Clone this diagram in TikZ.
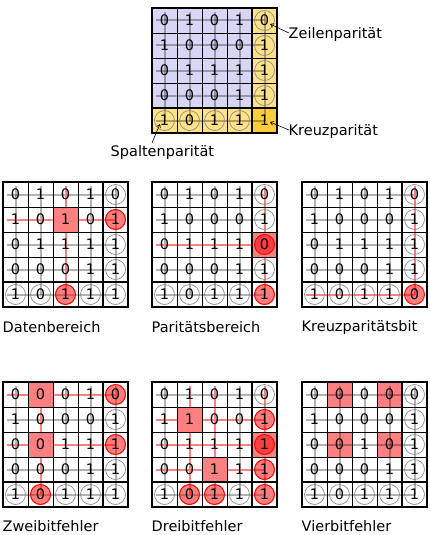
\documentclass[tikz,border=0pt]{standalone}
\usepackage{fontspec}
\setmainfont{DejaVu Sans}
\usepackage{tikz}
\usetikzlibrary{arrows.meta}
\definecolor{dataPurple}{RGB}{215,215,245}
\definecolor{parityYellow}{RGB}{255,225,135}
\definecolor{crossYellow}{RGB}{255,205,60}
\definecolor{errRed}{RGB}{255,128,128}

\tikzset{
  digit/.style={font=\fontsize{14.5}{16}\selectfont, inner sep=0pt},
  caption/.style={font=\fontsize{14.5}{16}\selectfont, anchor=west, inner sep=0.5pt},
  checkline/.style={black, opacity=0.3, line width=2pt},
  errline/.style={errRed, line width=2pt},
  paritycircle/.style={black!45, line width=0.7pt},
  errcircle/.style={red, fill=red, fill opacity=0.5, line width=0.9pt},
  thinframe/.style={black, line width=0.7pt},
  thickframe/.style={black, line width=1.8pt},
  pointer/.style={-{Straight Barb[length=3pt,width=4pt]}, line width=0.6pt},
}

% one 5x5 block: rows of bits, last row/column are parities
\newcommand{\bitgrid}[1]{%
  \foreach \row [count=\r] in {#1} {
    \foreach \v [count=\c] in \row {
      \node[digit] (bit-\r-\c) at ({25*\c-12.5},{25*\r-12.5}) {\v};
    }
  }}
\newcommand{\checklines}{%
  \foreach \i in {1,...,5} {
    \draw[checkline] (4,{25*\i-12.5}) -- (112.5,{25*\i-12.5});
    \draw[checkline] ({25*\i-12.5},4) -- ({25*\i-12.5},112.5);
  }}
\newcommand{\paritycircles}{%
  \foreach \i in {1,...,4} {
    \draw[paritycircle] (112.5,{25*\i-12.5}) circle[radius=10pt];
    \draw[paritycircle] ({25*\i-12.5},112.5) circle[radius=10pt];
  }}
\newcommand{\gridframe}{%
  \foreach \i in {1,...,4} {
    \draw[thinframe] ({25*\i},0) -- ({25*\i},125);
    \draw[thinframe] (0,{25*\i}) -- (125,{25*\i});
  }
  \draw[thickframe] (0,0) rectangle (125,125) (100,0) -- (100,125) (0,100) -- (125,100);}
\newcommand{\markcell}[2]{\fill[errRed] ({25*#2-25},{25*#1-25}) rectangle +(25,25);}
\newcommand{\markrow}[1]{\draw[errline] (4,{25*#1-12.5}) -- (112.5,{25*#1-12.5});}
\newcommand{\markcol}[1]{\draw[errline] ({25*#1-12.5},4) -- ({25*#1-12.5},112.5);}
\newcommand{\markbit}[2]{\draw[errcircle] ({25*#2-12.5},{25*#1-12.5}) circle[radius=10pt];}

\begin{document}
\begin{tikzpicture}[x=1pt,y=-1pt]
  \useasboundingbox (0,0) rectangle (430,535);

  % coded block with its parities
  \begin{scope}[shift={(152,8)}, name prefix=code-]
    \fill[dataPurple] (0,0) rectangle (100,100);
    \fill[parityYellow] (100,0) rectangle (125,125) (0,100) rectangle (100,125);
    \fill[crossYellow] (100,100) rectangle (125,125);
    \checklines
    \paritycircles
    \gridframe
    \bitgrid{{0,1,0,1,0},{1,0,0,0,1},{0,1,1,1,1},{0,0,0,1,1},{1,0,1,1,1}}
  \end{scope}
  \node[caption] (zeile) at (288,34) {Zeilenparität};
  \node[caption] (kreuz) at (288,131) {Kreuzparität};
  \node[caption] (spalte) at (110,152) {Spaltenparität};
  \coordinate (zeile-tip) at (270,24);
  \coordinate (kreuz-tip) at (270,122);
  \coordinate (spalte-tip) at (160,124);
  \draw[pointer] (zeile.west) ++(1,-1) -- (zeile-tip);
  \draw[pointer] (kreuz.west) ++(1,-1) -- (kreuz-tip);
  \draw[pointer] (spalte.north west) ++(42,-1.5) -- (spalte-tip);

  % single error in the data
  \begin{scope}[shift={(3,182)}, name prefix=daten-]
    \markcell{2}{3}
    \checklines
    \markrow{2} \markcol{3}
    \paritycircles
    \draw[paritycircle] (112.5,112.5) circle[radius=10pt];
    \markbit{2}{5} \markbit{5}{3}
    \gridframe
    \bitgrid{{0,1,0,1,0},{1,0,1,0,1},{0,1,1,1,1},{0,0,0,1,1},{1,0,1,1,1}}
  \end{scope}
  \node[caption] (daten) at (2,327) {Datenbereich};

  % single error in a parity bit
  \begin{scope}[shift={(152,182)}, name prefix=paritaet-]
    \markcell{3}{5}
    \checklines
    \markrow{3} \markcol{5}
    \paritycircles
    \draw[paritycircle] (112.5,112.5) circle[radius=10pt];
    \markbit{3}{5} \markbit{5}{5}
    \gridframe
    \bitgrid{{0,1,0,1,0},{1,0,0,0,1},{0,1,1,1,0},{0,0,0,1,1},{1,0,1,1,1}}
  \end{scope}
  \node[caption] (paritaet) at (151,327) {Paritätsbereich};

  % error in the cross parity
  \begin{scope}[shift={(302,182)}, name prefix=kreuzbit-]
    \checklines
    \markrow{5} \markcol{5}
    \paritycircles
    \markbit{5}{5}
    \gridframe
    \bitgrid{{0,1,0,1,0},{1,0,0,0,1},{0,1,1,1,1},{0,0,0,1,1},{1,0,1,1,0}}
  \end{scope}
  \node[caption] (kreuzbit) at (301,327) {Kreuzparitätsbit};

  % two errors
  \begin{scope}[shift={(3,382)}, name prefix=zwei-]
    \markcell{1}{2} \markcell{3}{2}
    \checklines
    \markrow{1} \markrow{3} \markcol{2}
    \paritycircles
    \draw[paritycircle] (112.5,112.5) circle[radius=10pt];
    \markbit{1}{5} \markbit{3}{5} \markbit{5}{2}
    \gridframe
    \bitgrid{{0,0,0,1,0},{1,0,0,0,1},{0,0,1,1,1},{0,0,0,1,1},{1,0,1,1,1}}
  \end{scope}
  \node[caption] (zwei) at (2,526) {Zweibitfehler};

  % three errors
  \begin{scope}[shift={(152,382)}, name prefix=drei-]
    \markcell{2}{2} \markcell{3}{5} \markcell{4}{3}
    \checklines
    \markrow{2} \markrow{3} \markrow{4}
    \markcol{2} \markcol{3} \markcol{5}
    \paritycircles
    \draw[paritycircle] (112.5,112.5) circle[radius=10pt];
    \markbit{2}{5} \markbit{3}{5} \markbit{4}{5}
    \markbit{5}{2} \markbit{5}{3} \markbit{5}{5}
    \gridframe
    \bitgrid{{0,1,0,1,0},{1,1,0,0,1},{0,1,1,1,1},{0,0,1,1,1},{1,0,1,1,1}}
  \end{scope}
  \node[caption] (drei) at (151,526) {Dreibitfehler};

  % four errors, not detected
  \begin{scope}[shift={(302,382)}, name prefix=vier-]
    \markcell{1}{2} \markcell{1}{4} \markcell{3}{2} \markcell{3}{4}
    \checklines
    \paritycircles
    \draw[paritycircle] (112.5,112.5) circle[radius=10pt];
    \gridframe
    \bitgrid{{0,0,0,0,0},{1,0,0,0,1},{0,0,1,0,1},{0,0,0,1,1},{1,0,1,1,1}}
  \end{scope}
  \node[caption] (vier) at (301,526) {Vierbitfehler};
\end{tikzpicture}
\end{document}
